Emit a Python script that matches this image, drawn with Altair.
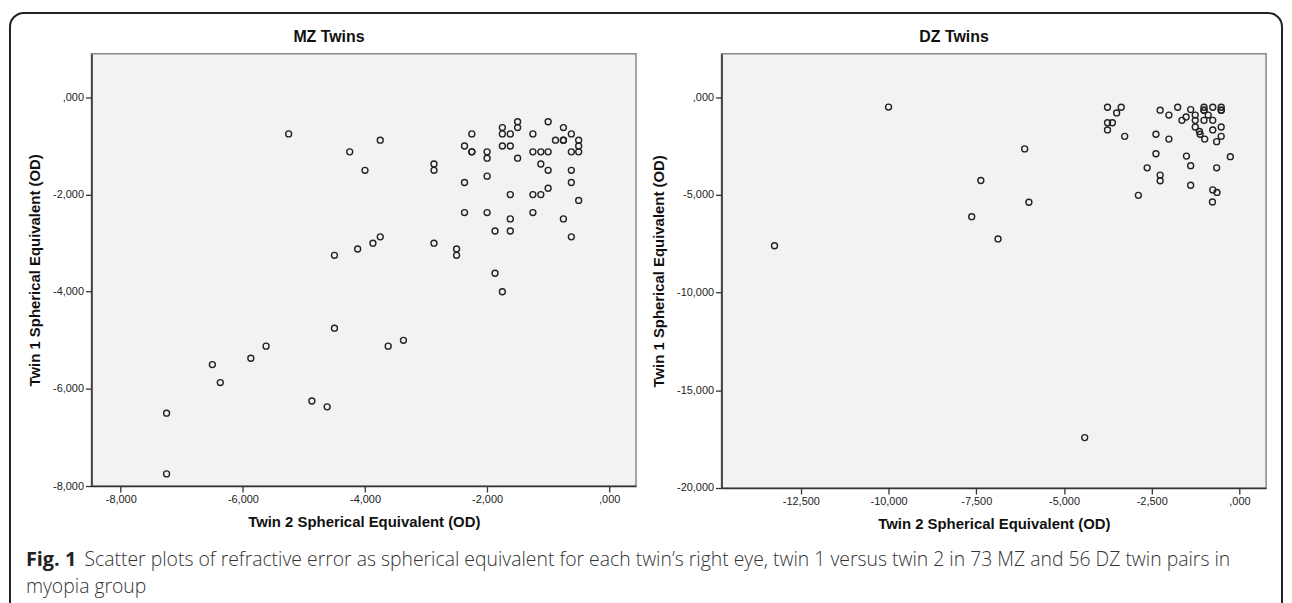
import altair as alt
import pandas as pd

# ---------------- data ----------------
mz_twin2 = [-1.50, -1.50, -1.00, -1.75, -1.75, -1.62, -2.25, -1.25, -0.75, -0.62,
            -0.88, -0.75, -0.50, -0.50, -0.50, -0.62, -2.37, -2.25, -2.00, -2.00,
            -1.75, -1.62, -1.50, -1.25, -1.12, -1.00, -2.87, -2.87, -1.12, -1.00,
            -0.62, -2.37, -2.00, -0.62, -1.00, -1.62, -1.25, -1.12, -0.50, -2.37,
            -2.00, -1.25, -1.62, -0.75, -1.87, -1.62, -0.62, -2.87, -2.50, -2.50,
            -1.87, -1.75,
            -5.25, -4.25, -3.75, -4.00, -4.50, -4.12, -3.87, -3.75,
            -4.50, -5.62, -5.87, -6.50, -6.37, -7.25, -7.25, -4.87, -4.62, -3.62, -3.37,
            -2.25, -0.75]
mz_twin1 = [-0.50, -0.62, -0.50, -0.62, -0.75, -0.75, -0.75, -0.75, -0.62, -0.75,
            -0.88, -0.88, -0.88, -1.00, -1.12, -1.12, -1.00, -1.12, -1.12, -1.25,
            -1.00, -1.00, -1.25, -1.12, -1.12, -1.12, -1.37, -1.50, -1.37, -1.50,
            -1.50, -1.75, -1.62, -1.75, -1.87, -2.00, -2.00, -2.00, -2.12, -2.37,
            -2.37, -2.37, -2.50, -2.50, -2.75, -2.75, -2.87, -3.00, -3.12, -3.25,
            -3.62, -4.00,
            -0.75, -1.12, -0.88, -1.50, -3.25, -3.12, -3.00, -2.87,
            -4.75, -5.12, -5.37, -5.50, -5.87, -6.50, -7.75, -6.25, -6.37, -5.12, -5.00,
            -1.12, -0.88]

dz_twin2 = [-3.76, -3.37, -3.50, -3.76, -3.62, -3.76, -3.27, -2.26, -2.01, -1.76,
            -1.39, -1.64, -1.52, -1.26, -1.26, -1.01, -1.01, -0.76, -0.52, -0.52,
            -0.89, -1.01, -0.76, -1.26, -1.14, -1.12, -0.52, -0.76, -0.99, -0.52,
            -0.65, -2.38, -2.01, -2.38, -1.51, -0.26, -2.63, -1.39, -0.65, -2.26,
            -2.26, -1.39, -2.88, -0.76, -0.64, -0.77,
            -10.00, -13.25, -6.12, -7.37, -6.00, -7.63, -6.88, -4.41,
            -1.01, -0.52]
dz_twin1 = [-0.51, -0.51, -0.80, -1.30, -1.30, -1.67, -2.00, -0.66, -0.91, -0.51,
            -0.63, -1.18, -1.01, -0.91, -1.18, -0.51, -0.66, -0.51, -0.51, -0.66,
            -0.91, -1.18, -1.18, -1.52, -1.75, -1.89, -1.52, -1.67, -2.14, -2.00,
            -2.27, -1.89, -2.14, -2.89, -3.01, -3.04, -3.61, -3.50, -3.61, -3.98,
            -4.27, -4.50, -5.02, -4.74, -4.87, -5.36,
            -0.50, -7.60, -2.64, -4.26, -5.37, -6.11, -7.25, -17.42,
            -0.66, -0.66]

mz_x_ticks = [-8, -6, -4, -2, 0]
mz_y_ticks = [0, -2, -4, -6, -8]
dz_x_ticks = [-12.5, -10, -7.5, -5, -2.5, 0]
dz_y_ticks = [0, -5, -10, -15, -20]

mz_title = "MZ Twins"
dz_title = "DZ Twins"
x_title = "Twin 2 Spherical Equivalent (OD)"
y_title = "Twin 1 Spherical Equivalent (OD)"
caption_bold = "Fig. 1"
caption_line1 = ("Scatter plots of refractive error as spherical equivalent for each twin\u2019s "
                 "right eye, twin 1 versus twin 2 in 73 MZ and 56 DZ twin pairs in")
caption_line2 = "myopia group"

# ---------------- chart ----------------
LABEL_EXPR = ("datum.value == 0 ? ',000' : (datum.value < 0 ? '-' : '') + "
              "replace(format(abs(datum.value), '.3f'), '.', ',')")

AX_FONT = "Liberation Sans"
one = pd.DataFrame({"k": [0]})


def make_axis(values, title, title_pad):
    return alt.Axis(values=values, title=title, labelExpr=LABEL_EXPR, grid=False,
                    ticks=True, tickSize=6, tickWidth=1.3, tickColor="#333",
                    domainColor="#333", domainWidth=1.6,
                    labelFont=AX_FONT, labelFontSize=11, labelColor="#222",
                    labelPadding=2, titleFont=AX_FONT, titleFontSize=15,
                    titleFontWeight="bold", titleColor="#111", titlePadding=title_pad)


def panel(x_vals, y_vals, xdom, ydom, xticks, yticks, title, title_x):
    df = pd.DataFrame({"twin2": x_vals, "twin1": y_vals})
    pts = alt.Chart(df).mark_point(shape="circle", filled=False, size=36,
                                   stroke="#222", strokeWidth=1.4, opacity=1).encode(
        x=alt.X("twin2:Q", scale=alt.Scale(domain=xdom, nice=False, zero=False),
                axis=make_axis(xticks, x_title, 10)),
        y=alt.Y("twin1:Q", scale=alt.Scale(domain=ydom, nice=False, zero=False),
                axis=make_axis(yticks, y_title, 10)),
    )
    ttl = alt.Chart(one).mark_text(align="center", baseline="middle", font=AX_FONT,
                                   fontSize=16, fontWeight="bold", color="#111").encode(
        x=alt.value(title_x), y=alt.value(-17), text=alt.value(title))
    return pts, ttl


mz_pts, mz_ttl = panel(mz_twin2, mz_twin1, [-8.48, 0.44], [-8.0, 0.9],
                       mz_x_ticks, mz_y_ticks, mz_title, 239)
dz_pts, dz_ttl = panel(dz_twin2, dz_twin1, [-14.76, 0.76], [-20.0, 2.23],
                       dz_x_ticks, dz_y_ticks, dz_title, 234)

border = alt.Chart(one).mark_rect(cornerRadius=14, fillOpacity=0, stroke="#222",
                                  strokeWidth=2).encode(
    x=alt.value(-82), x2=alt.value(1198), y=alt.value(-41), y2=alt.value(600))

cap_bold = alt.Chart(one).mark_text(align="left", baseline="middle", font="Open Sans",
                                    fontSize=20, fontWeight="bold", color="#222").encode(
    x=alt.value(-66), y=alt.value(509), text=alt.value(caption_bold))
cap_1 = alt.Chart(one).mark_text(align="left", baseline="middle", font="Open Sans",
                                 fontSize=19.5, fontWeight=300, color="#333").encode(
    x=alt.value(-7), y=alt.value(509), text=alt.value(caption_line1))
cap_2 = alt.Chart(one).mark_text(align="left", baseline="middle", font="Open Sans",
                                 fontSize=19.5, fontWeight=300, color="#333").encode(
    x=alt.value(-66), y=alt.value(537), text=alt.value(caption_line2))

mz = alt.layer(mz_pts, mz_ttl, border, cap_bold, cap_1, cap_2).properties(width=548, height=435)
dz = alt.layer(dz_pts, dz_ttl).properties(width=548, height=437)

chart = alt.hconcat(mz, dz, spacing=86, bounds="flush").properties(
    padding={"left": 0, "top": 1, "right": 0, "bottom": 0},
    background="white",
).configure_view(fill="#f2f2f2", stroke="#8a8a8a", strokeWidth=1.5)

chart.save("out.html", embed_options={"renderer": "svg", "actions": False})
